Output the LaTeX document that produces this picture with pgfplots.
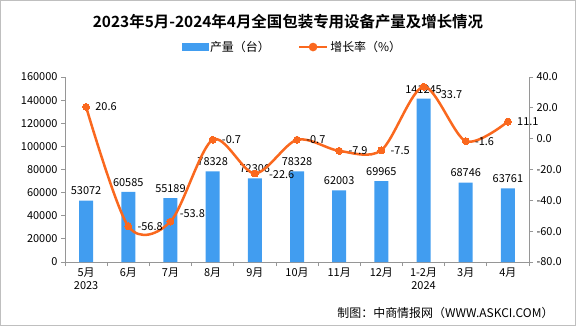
\documentclass[border=0pt]{standalone}
\usepackage{pgfplots}
\pgfplotsset{compat=1.18}
\usepackage{fontspec}
\setmainfont{Noto Sans CJK SC}[BoldFont={Noto Sans CJK SC Bold}]
\definecolor{barblue}{RGB}{65,157,240}
\definecolor{lineorange}{RGB}{250,104,30}
\definecolor{axgray}{RGB}{150,150,150}
\newcommand{\tf}{\fontsize{11}{13}\selectfont}
\newcommand{\lf}{\fontsize{12}{14}\selectfont}
\begin{document}
\begin{tikzpicture}[x=1bp,y=1bp]
\path[use as bounding box] (0,0) rectangle (576,326);
\draw[gray!50, line width=0.8bp] (0.4,0.4) rectangle (575.6,325.6);
\node[font=\bfseries\fontsize{15.5}{18}\selectfont] at (288,304) {2023年5月-2024年4月全国包装专用设备产量及增长情况};
\node[font=\lf, anchor=east] at (557,13) {制图：中商情报网（WWW.ASKCI.COM）};

\begin{axis}[
  at={(65bp,64bp)}, anchor=south west, scale only axis,
  width=464bp, height=185bp,
  xmin=-0.5, xmax=10.5, ymin=0, ymax=160000,
  axis x line*=bottom, axis y line*=left,
  axis line style={axgray, line width=0.8bp},
  tick style={axgray, line width=0.8bp},
  tick align=outside, major tick length=4bp,
  xtick={-0.5,0.5,...,10.5}, x tick label as interval,
  xticklabels={{5月\\2023},{6月},{7月},{8月},{9月},{10月},{11月},{12月},{1-2月\\2024},{3月},{4月}},
  xticklabel style={align=center, font=\tf, anchor=north, inner sep=1bp, yshift=-1bp},
  ytick={0,20000,...,160000}, scaled y ticks=false,
  yticklabel style={font=\tf, /pgf/number format/.cd, fixed, precision=0, 1000 sep={}, assume math mode=true},
  ybar, bar width=14bp, clip=false,
  nodes near coords,
  nodes near coords style={font=\tf, text=black, yshift=2bp, /pgf/number format/.cd, fixed, precision=0, 1000 sep={}, assume math mode=true},
]
\addplot[fill=barblue, draw=none] coordinates {
(0,53072) (1,60585) (2,55189) (3,78328) (4,72306) (5,78328) (6,62003) (7,69965) (8,141245) (9,68746) (10,63761)};
\end{axis}

\begin{axis}[
  at={(65bp,64bp)}, anchor=south west, scale only axis,
  width=464bp, height=185bp,
  xmin=-0.5, xmax=10.5, ymin=-80, ymax=40,
  axis x line=none, axis y line*=right,
  axis line style={axgray, line width=0.8bp},
  tick style={axgray, line width=0.8bp},
  tick align=outside, major tick length=4bp,
  ytick={-80,-60,...,40},
  yticklabel style={font=\tf, /pgf/number format/.cd, fixed, fixed zerofill, precision=1, assume math mode=true},
  clip=false,
  legend columns=2,
  legend style={at={(axis description cs:0.49,1.162)}, anchor=center, draw=none, fill=none, font=\lf,
    /tikz/every even column/.append style={column sep=26bp}},
]
\addlegendimage{legend image code/.code={\fill[barblue] (0bp,-3.5bp) rectangle (26bp,3.5bp);}}
\addlegendentry{产量（台）}
\addplot[lineorange, line width=2.5bp, smooth, tension=0.5, mark=*, mark size=3.5,
  mark options={fill=lineorange, draw=lineorange, line width=0bp},
  nodes near coords, point meta=explicit symbolic,
  visualization depends on={value \thisrow{dy} \as \dy},
  visualization depends on={value \thisrow{dx} \as \dx},
  nodes near coords style={anchor=west, font=\tf, text=black, xshift=\dx bp, yshift=\dy bp},
  legend image code/.code={\draw[lineorange, line width=2.5bp] (0bp,0bp) -- (28bp,0bp); \fill[lineorange] (14bp,0bp) circle (3bp);}]
table[meta=label] {
x y label dy dx
0 20.6 20.6 0 6
1 -56.8 -56.8 0 6
2 -53.8 -53.8 8 6
3 -0.7 -0.7 0 6
4 -22.6 -22.6 -1 11
5 -0.7 -0.7 0 6
6 -7.9 -7.9 0 6
7 -7.5 -7.5 0 6
8 33.7 33.7 -8 14
9 -1.6 -1.6 0 6
10 11.1 11.1 0 6
};
\addlegendentry{增长率（\%）}
\end{axis}
\end{tikzpicture}
\end{document}
